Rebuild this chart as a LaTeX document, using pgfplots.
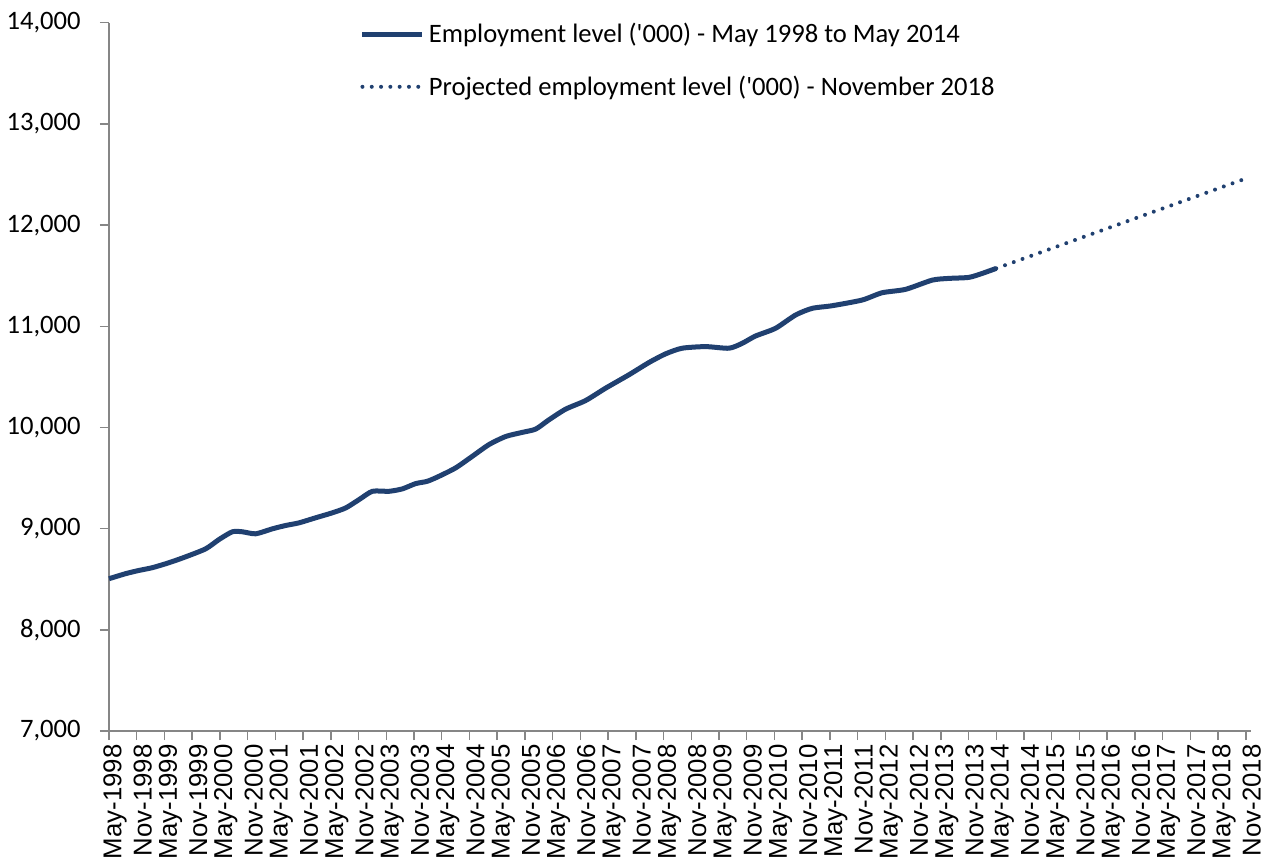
\documentclass[border=0pt]{standalone}
\usepackage{pgfplots}
\pgfplotsset{compat=1.18}
\usepackage{fontspec}
\setmainfont{Carlito}
\newfontfamily\arialfont{Liberation Sans}
\definecolor{navy}{RGB}{32,64,112}
\definecolor{axgray}{RGB}{134,134,134}
\begin{document}
\begin{tikzpicture}
\useasboundingbox (-54.5pt,-63.5pt) rectangle (579pt,365.5pt);
\begin{axis}[
  at={(0,0)}, anchor=south west,
  scale only axis,
  width=570.75pt, height=354.15pt,
  xmin=0, xmax=41.17,
  ymin=7000, ymax=14000,
  ytick={7000,8000,...,14000},
  xtick={0,1,...,41},
  xticklabels={May-1998,Nov-1998,May-1999,Nov-1999,May-2000,Nov-2000,May-2001,Nov-2001,May-2002,Nov-2002,May-2003,Nov-2003,May-2004,Nov-2004,May-2005,Nov-2005,May-2006,Nov-2006,May-2007,Nov-2007,May-2008,Nov-2008,May-2009,Nov-2009,May-2010,Nov-2010,May-2011,Nov-2011,May-2012,Nov-2012,May-2013,Nov-2013,May-2014,Nov-2014,May-2015,Nov-2015,May-2016,Nov-2016,May-2017,Nov-2017,May-2018,Nov-2018},
  axis x line*=bottom, axis y line*=left,
  axis line style={axgray, line width=0.7pt, -},
  tick style={axgray, line width=0.7pt},
  tick align=outside,
  major tick length=4.5pt,
  xticklabel shift=2pt,
  xticklabel style={font=\arialfont\fontsize{12.9pt}{15pt}\selectfont, rotate=90, anchor=east, inner sep=0pt, yshift=-3pt},
  yticklabel style={font=\fontsize{13.3pt}{15pt}\selectfont, anchor=east, inner sep=0pt, xshift=-9.5pt},
  /pgf/number format/assume math mode=true,
  /pgf/number format/.cd, 1000 sep={,}, /pgfplots/.cd,
  scaled y ticks=false,
  clip=false,
  legend style={draw=none, fill=none, at={(0.2195,1.0)}, anchor=north west, yshift=2pt,
    font=\fontsize{13.3pt}{15pt}\selectfont, inner sep=0pt,
    row sep=11pt, /tikz/every even column/.append style={column sep=1.5pt}},
  legend cell align=left,
  legend image code/.code={\draw[#1] (0pt,0pt) -- (30pt,0pt);},
]
\addplot[navy, line width=2.5pt, smooth, tension=0.4] coordinates {
(0,8505) (0.6,8555) (1.08,8587) (1.56,8614) (2.16,8663) (2.77,8722) (3.49,8801) (3.97,8893) (4.45,8969) (4.81,8969) (5.29,8949) (5.89,8998) (6.37,9031) (6.85,9057) (7.45,9107) (8.05,9156) (8.54,9205) (9.02,9287) (9.5,9369) (10.1,9369) (10.58,9393) (11.06,9445) (11.48,9468) (11.9,9517) (12.5,9600) (13.1,9714) (13.7,9830) (14.31,9911) (14.9,9951) (15.39,9984) (15.87,10076) (16.47,10181) (17.19,10266) (17.91,10388) (18.75,10520) (19.47,10641) (20.07,10727) (20.67,10783) (21.52,10799) (22.36,10783) (22.84,10832) (23.32,10904) (24.04,10980) (24.76,11111) (25.36,11177) (26.08,11203) (27.16,11259) (27.88,11331) (28.73,11365) (29.69,11456) (30.29,11473) (31.01,11483) (31.49,11522) (32,11572)
};
\addlegendentry{Employment level (\textquotesingle 000) - May 1998 to May 2014}
\addplot[navy, line width=2pt, line cap=round, dash pattern=on 0pt off 4.65pt] coordinates {
(32,11572) (41,12460)
};
\addlegendentry{Projected employment level (\textquotesingle 000) - November 2018}
\end{axis}
\end{tikzpicture}
\end{document}
